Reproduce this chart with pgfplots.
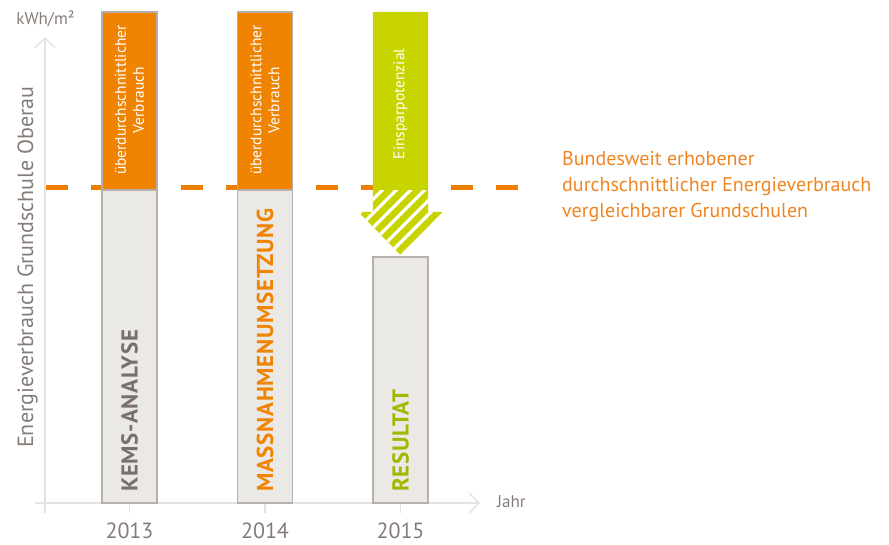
\documentclass[border=0pt]{standalone}
\usepackage{fontspec}
\setmainfont{PT Sans}
\newfontfamily\capsfont[LetterSpace=3]{PT Sans}
\usepackage{pgfplots}
\pgfplotsset{compat=1.18}
\usetikzlibrary{arrows.meta,patterns.meta}
\definecolor{axisgray}{HTML}{E3E3E3}
\definecolor{labelgray}{HTML}{857C78}
\definecolor{bargray}{HTML}{EBE9E5}
\definecolor{bordergray}{HTML}{B7AFAB}
\definecolor{barorange}{HTML}{F08300}
\definecolor{dashorange}{HTML}{EF7D00}
\definecolor{textorange}{HTML}{EE8522}
\definecolor{arrowgreen}{HTML}{C8D400}
\definecolor{resgreen}{HTML}{A3B700}
\definecolor{kemsgray}{HTML}{7A706B}
\begin{document}
\begin{tikzpicture}
\path[use as bounding box] (0,0) rectangle (889pt,544pt);
\begin{axis}[
  at={(45pt,41pt)}, anchor=south west,
  scale only axis, width=435pt, height=466pt,
  xmin=2012.3764, xmax=2015.5867, ymin=0, ymax=147.47,
  clip=false,
  axis lines*=left,
  axis line style={draw=axisgray, line width=1.3pt},
  x axis line style={-{Straight Barb[length=10pt,width=20pt]}, shorten <=-10pt},
  y axis line style={-{Straight Barb[length=10pt,width=20pt]}, shorten <=-10pt},
  xtick={2013,2014,2015}, xticklabels={2013,2014,2015},
  ytick=\empty,
  tick align=outside, major tick length=10pt,
  tick style={draw=axisgray, line width=1.3pt},
  xticklabel style={font=\fontsize{22}{22}\selectfont, text=labelgray, inner sep=0pt, yshift=-10pt},
]
% average line
\addplot[draw=dashorange, line width=5pt, dash pattern=on 22pt off 23pt] coordinates {(2012.3838,100) (2015.9188,100)};
% orange (above average) bars
\addplot[ybar, bar width=55pt, bar shift=0pt, fill=barorange, draw=bordergray, line width=1.5pt] coordinates {(2013,155.4) (2014,155.4)};
% gray consumption bars
\addplot[ybar, bar width=55pt, bar shift=0pt, fill=bargray, draw=bordergray, line width=1.5pt] coordinates {(2013,99) (2014,99) (2015,77.8)};
% savings arrow
\addplot[fill=arrowgreen, draw=none] coordinates {(2014.797,155.4) (2015.203,155.4) (2015.203,92.1) (2015.31,92.1) (2015,78.5) (2014.69,92.1) (2014.797,92.1)};
\addplot[draw=none, pattern={Lines[angle=45,distance=10pt,line width=3.2pt]}, pattern color=white] coordinates {(2014.797,99) (2015.203,99) (2015.203,92.1) (2015.31,92.1) (2015,78.5) (2014.69,92.1) (2014.797,92.1)};
% texts
\node[rotate=90, text=white, align=center, font=\fontsize{15.5}{18}\selectfont] at (axis cs:2013,127.5) {überdurchschnittlicher\\Verbrauch};
\node[rotate=90, text=white, align=center, font=\fontsize{15.5}{18}\selectfont] at (axis cs:2014,127.5) {überdurchschnittlicher\\Verbrauch};
\node[rotate=90, text=white, font=\fontsize{15.5}{18}\selectfont] at (axis cs:2015,126.3) {Einsparpotenzial};
\node[rotate=90, anchor=west, inner sep=0pt, text=kemsgray, font=\capsfont\bfseries\fontsize{23}{23}\selectfont] at (axis cs:2013,3.5) {KEMS-ANALYSE};
\node[rotate=90, anchor=west, inner sep=0pt, text=barorange, font=\capsfont\bfseries\fontsize{23}{23}\selectfont] at (axis cs:2014,3.5) {MASSNAHMENUMSETZUNG};
\node[rotate=90, anchor=west, inner sep=0pt, text=resgreen, font=\capsfont\bfseries\fontsize{23}{23}\selectfont] at (axis cs:2015,3.5) {RESULTAT};
\node[anchor=west, align=left, inner sep=0pt, text=textorange, font=\fontsize{20}{26}\selectfont] at (axis cs:2016.192,100.3) {Bundesweit erhobener\\durchschnittlicher Energieverbrauch\\vergleichbarer Grundschulen};
\node[rotate=90, anchor=base west, inner sep=0pt, text=labelgray, font=\fontsize{22}{22}\selectfont] at (axis cs:2012.288,17.4) {Energieverbrauch Grundschule Oberau};
\node[anchor=base, inner sep=0pt, text=labelgray, font=\fontsize{17}{17}\selectfont] at (axis cs:2012.38,151.3) {kWh/m²};
\node[anchor=base west, inner sep=0pt, text=labelgray, font=\fontsize{17}{17}\selectfont] at (axis cs:2015.712,-1.58) {Jahr};
\end{axis}
\end{tikzpicture}
\end{document}
